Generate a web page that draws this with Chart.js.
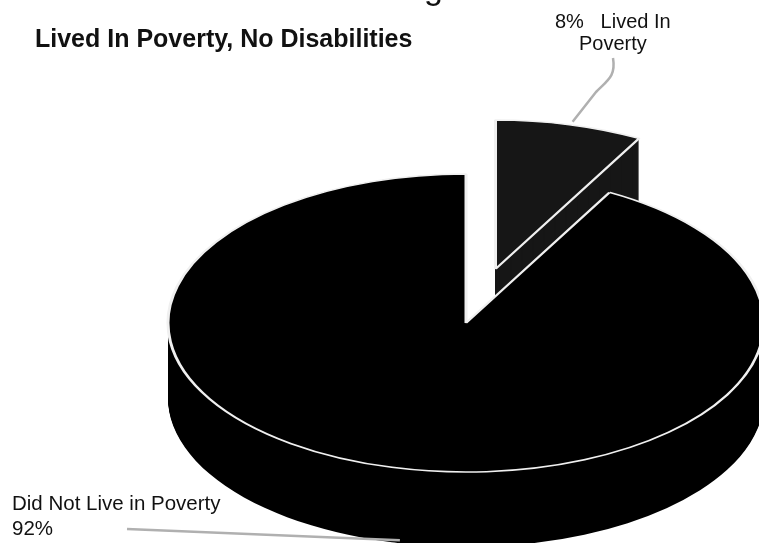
<!DOCTYPE html>
<html>
<head>
<meta charset="utf-8">
<style>
  html, body { margin: 0; padding: 0; background: #fff; }
  #wrap { width: 759px; height: 543px; overflow: hidden; }
</style>
<script src="https://cdn.jsdelivr.net/npm/chart.js@4/dist/chart.umd.min.js"></script>
</head>
<body>
<div id="wrap"><canvas id="pie" width="759" height="543"></canvas></div>
<script>
const categories = ['Lived In Poverty', 'Did Not Live in Poverty'];
const shares = [8, 92];
const chartTitle = 'Lived In Poverty, No Disabilities';
const headingTail = 'g';
const sliceLabel = ['8%   Lived In', 'Poverty'];
const restLabel = ['Did Not Live in Poverty', '92%'];

// Projection of the flat pie onto a tilted disc
const squash = 0.5;
const rimDepth = 75;
const liftX = 29.5;
const liftY = -54;

const tiltedPie = {
  id: 'tiltedPie',
  beforeDatasetDraw(chart, args) {
    const { ctx, chartArea } = chart;
    const cy = (chartArea.top + chartArea.bottom) / 2;
    const cx = (chartArea.left + chartArea.right) / 2;
    const arcs = args.meta.data;
    arcs[0].x = cx + liftX;
    arcs[0].y = cy + liftY / squash;

    ctx.save();
    ctx.translate(0, cy);
    ctx.scale(1, squash);
    ctx.translate(0, -cy);

    // Stack borderless copies downwards to build the rim
    arcs.forEach(arc => {
      const resolved = arc.options;
      arc.options = Object.assign({}, resolved, { borderWidth: 0 });
      for (let d = rimDepth; d > 0; d--) {
        ctx.save();
        ctx.translate(0, d / squash);
        arc.draw(ctx);
        ctx.restore();
      }
      arc.options = resolved;
    });
  },
  afterDatasetDraw(chart) {
    chart.ctx.restore();
  },
  afterDraw(chart) {
    const { ctx, chartArea } = chart;
    const cy = (chartArea.top + chartArea.bottom) / 2;
    const arcs = chart.getDatasetMeta(0).data;

    // Rim point of a slice at its middle angle, in screen space
    const rimPoint = (arc, depth) => {
      const mid = (arc.startAngle + arc.endAngle) / 2;
      return {
        x: arc.x + Math.cos(mid) * arc.outerRadius,
        y: cy + (arc.y - cy + Math.sin(mid) * arc.outerRadius) * squash + depth
      };
    };

    // Leader lines from the labels to their slices
    ctx.save();
    ctx.strokeStyle = '#b0b0b0';
    ctx.lineWidth = 2.5;
    ctx.lineJoin = 'round';
    const a = rimPoint(arcs[0], 0);
    ctx.beginPath();
    ctx.moveTo(613, 58);
    ctx.bezierCurveTo(616, 76, 608, 80, 596, 92);
    ctx.lineTo(a.x + 3, a.y - 3);
    ctx.stroke();
    const b = rimPoint(arcs[1], rimDepth);
    ctx.beginPath();
    ctx.moveTo(127, 529);
    ctx.lineTo(b.x + 8, b.y - 2);
    ctx.stroke();

    ctx.fillStyle = '#111';
    ctx.textBaseline = 'alphabetic';
    ctx.textAlign = 'left';
    ctx.font = '34px "Liberation Sans"';
    ctx.fillText(headingTail, 424, -1);
    ctx.font = 'bold 25px "Liberation Sans"';
    ctx.fillText(chartTitle, 35, 47);
    ctx.font = '20px "Liberation Sans"';
    ctx.fillText(sliceLabel[0], 555, 28);
    ctx.fillText(sliceLabel[1], 579, 50);
    ctx.font = '20.5px "Liberation Sans"';
    ctx.fillText(restLabel[0], 12, 510);
    ctx.fillText(restLabel[1], 12, 535);
    ctx.restore();
  }
};

new Chart(document.getElementById('pie'), {
  type: 'pie',
  data: {
    labels: categories,
    datasets: [{
      data: shares,
      backgroundColor: ['#161616', '#000000'],
      borderColor: '#f0f0f0',
      borderWidth: 3,
      clip: false
    }]
  },
  options: {
    responsive: false,
    animation: false,
    radius: 298,
    layout: { padding: { left: 173, top: 103 } },
    plugins: { legend: { display: false }, tooltip: { enabled: false }, title: { display: false } }
  },
  plugins: [tiltedPie]
});
</script>
</body>
</html>
